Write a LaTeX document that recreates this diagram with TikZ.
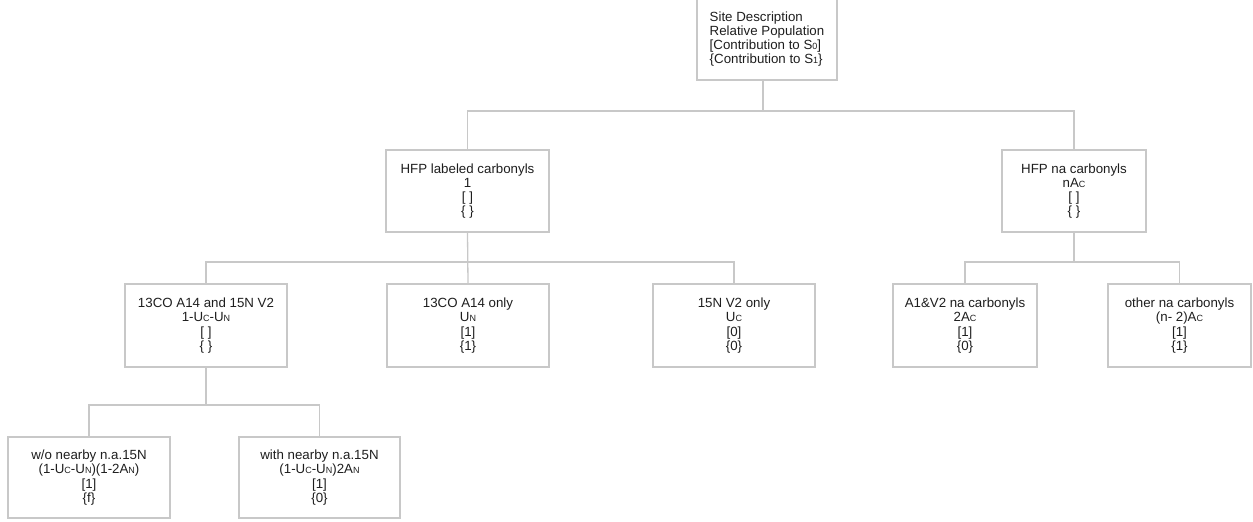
\documentclass[tikz,border=0pt]{standalone}
\usepackage{fontspec}
\setmainfont{Liberation Sans}
\usetikzlibrary{calc}
\definecolor{linegray}{RGB}{200,200,200}
\definecolor{txt}{RGB}{30,30,30}
\newcommand{\sm}[1]{{\fontsize{9}{9}\selectfont #1}}
\tikzset{
  box/.style={draw=linegray, line width=1.3pt, rectangle, inner sep=0pt,
    minimum height=82pt, text=txt, align=center,
    font=\fontsize{13.3}{14.2}\selectfont},
  conn/.style={draw=linegray, line width=1.3pt}
}
\begin{document}
\begin{tikzpicture}[x=1pt,y=-1pt]
\useasboundingbox (0,0) rectangle (1253,522);
\node[box, minimum width=140pt, align=left] (root) at (767,39)
  {Site Description\\Relative Population\\{}[Contribution to S\sm{0}]\\\{Contribution to S\sm{1}\}};
\node[box, minimum width=163pt] (hfpl) at (467.5,191) {HFP labeled carbonyls\\1\\{}[ ]\\\{ \}};
\node[box, minimum width=144pt] (hfpn) at (1074,191) {HFP na carbonyls\\nA\sm{C}\\{}[ ]\\\{ \}};
\node[box, minimum width=162pt, minimum height=83pt] (a) at (206,325.5) {13CO A14 and 15N V2\\1-U\sm{C}-U\sm{N}\\{}[ ]\\\{ \}};
\node[box, minimum width=162pt, minimum height=83pt] (b) at (468,325.5) {13CO A14 only\\U\sm{N}\\{}[1]\\\{1\}};
\node[box, minimum width=162pt, minimum height=83pt] (c) at (734,325.5) {15N V2 only\\U\sm{C}\\{}[0]\\\{0\}};
\node[box, minimum width=144pt, minimum height=83pt] (d) at (965,325.5) {A1\&V2 na carbonyls\\2A\sm{C}\\{}[1]\\\{0\}};
\node[box, minimum width=143pt, minimum height=83pt] (e) at (1179.5,325.5) {other na carbonyls\\(n- 2)A\sm{C}\\{}[1]\\\{1\}};
\node[box, minimum width=162pt, minimum height=81pt] (f) at (89,477.5) {w/o nearby n.a.15N\\(1-U\sm{C}-U\sm{N})(1-2A\sm{N})\\{}[1]\\\{f\}};
\node[box, minimum width=161pt, minimum height=81pt] (g) at (319.5,477.5) {with nearby n.a.15N\\(1-U\sm{C}-U\sm{N})2A\sm{N}\\{}[1]\\\{0\}};
\coordinate (b1) at (0,111);
\coordinate (b2) at (0,262);
\coordinate (b3) at (0,405);
\coordinate (rs) at ($(root.south)+(-4,0)$);
\draw[conn] (rs) -- (rs |- b1);
\draw[conn] (hfpl.north) |- (hfpn.north |- b1) -- (hfpn.north);
\draw[conn] (hfpl.south) -- (b.north);
\draw[conn] (a.north) |- (c.north |- b2) -- (c.north);
\draw[conn] (hfpn.south) -- (hfpn.south |- b2);
\draw[conn] (d.north) |- (e.north |- b2) -- (e.north);
\draw[conn] (a.south) -- (a.south |- b3);
\draw[conn] (f.north) |- (g.north |- b3) -- (g.north);
\end{tikzpicture}
\end{document}
